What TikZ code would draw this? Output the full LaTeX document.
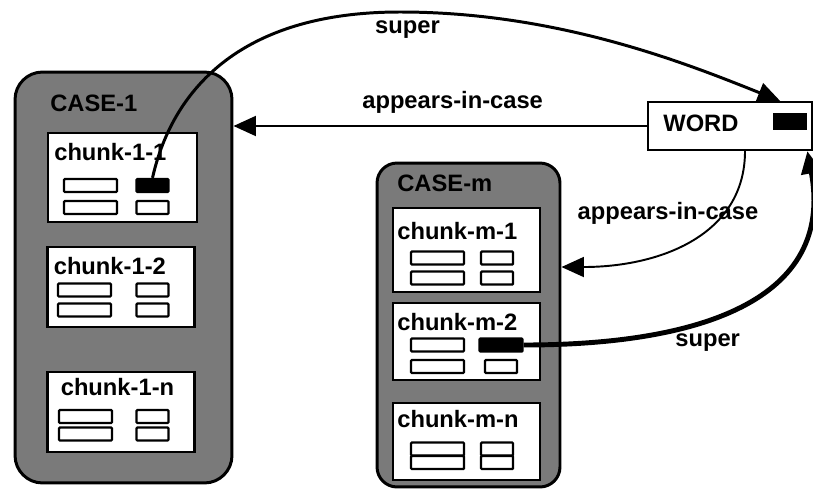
\documentclass[tikz,border=0pt]{standalone}
\usepackage{fontspec}
\setmainfont{Liberation Sans}
\usepackage{tikz}
\usetikzlibrary{arrows.meta, positioning, calc}

% four slots inside one chunk: name, wide x, narrow x, upper y, lower y, extra style of the upper narrow slot
\newcommand{\chunkfields}[6]{%
  \node[field, minimum width=1.06cm] (#1-a) at (#2,#4) {};
  \node[field, minimum width=0.64cm, #6] (#1-b) at (#3,#4) {};
  \node[field, minimum width=1.06cm] (#1-c) at (#2,#5) {};
  \node[field, minimum width=0.64cm] (#1-d) at (#3,#5) {};
}

\begin{document}
\begin{tikzpicture}[
  x=0.02cm, y=-0.02cm,
  every node/.style={font=\fontsize{13.5}{16}\selectfont\bfseries},
  casebox/.style={rectangle, rounded corners=0.55cm, draw, line width=1.7pt, fill=black!52},
  chunkbox/.style={rectangle, draw, line width=1.2pt, fill=white, minimum width=2.94cm},
  field/.style={rectangle, rounded corners=0.5pt, draw, line width=1.3pt, fill=white,
    minimum height=0.26cm, inner sep=0pt},
  tag/.style={inner sep=0pt, anchor=west},
  link/.style={line width=1.1pt, -{Triangle[length=0.45cm, width=0.4cm]}},
  superlink/.style={link, line width=1.7pt}
]
  \useasboundingbox (0,0) rectangle (813,490);

  %% the two cases
  \node[casebox, minimum width=4.34cm, minimum height=8.22cm] (case-1) at (123.5,277.5) {};
  \node[casebox, rounded corners=0.4cm, minimum width=3.66cm, minimum height=6.48cm] (case-m) at (468.5,325) {};
  \node[tag] (case-1-name) at (50,103) {CASE-1};
  \node[tag] (case-m-name) at (397,183) {CASE-m};

  %% chunks of CASE-1
  \node[chunkbox, minimum width=2.98cm, minimum height=1.78cm] (chunk-1-1) at (122.5,177.5) {};
  \node[chunkbox, minimum height=1.6cm]  (chunk-1-2) at (121,287) {};
  \node[chunkbox, minimum height=1.6cm]  (chunk-1-n) at (121,412) {};
  \node[tag] (chunk-1-1-name) at ([shift={(7,20)}]chunk-1-1.north west) {chunk-1-1};
  \node[tag] (chunk-1-2-name) at ([shift={(7,20)}]chunk-1-2.north west) {chunk-1-2};
  \node[tag] (chunk-1-n-name) at ([shift={(14,16)}]chunk-1-n.north west) {chunk-1-n};
  \chunkfields{chunk-1-1}{90.5}{152.5}{185.5}{207.5}{fill=black}
  \chunkfields{chunk-1-2}{84.5}{152.5}{290}{310}{}
  \chunkfields{chunk-1-n}{85.5}{152.5}{416.5}{434}{}

  %% chunks of CASE-m
  \node[chunkbox, minimum height=1.68cm] (chunk-m-1) at (466.5,250) {};
  \node[chunkbox, minimum height=1.54cm] (chunk-m-2) at (466.5,341.5) {};
  \node[chunkbox, minimum height=1.54cm] (chunk-m-n) at (466.5,441.5) {};
  \node[tag] (chunk-m-1-name) at ([shift={(5,24)}]chunk-m-1.north west) {chunk-m-1};
  \node[tag] (chunk-m-2-name) at ([shift={(5,20)}]chunk-m-2.north west) {chunk-m-2};
  \node[tag] (chunk-m-n-name) at ([shift={(5,17)}]chunk-m-n.north west) {chunk-m-n};
  \chunkfields{chunk-m-1}{437.5}{497}{258}{278}{}
  \chunkfields{chunk-m-2}{437.5}{501}{345}{366.5}{fill=black, minimum width=0.86cm}
  \chunkfields{chunk-m-n}{437.5}{497}{449}{462.5}{}

  %% the word
  \node[rectangle, draw, line width=1.2pt, fill=white, minimum width=3.28cm, minimum height=0.96cm] (word) at (730,126) {};
  \node[tag] (word-name) at (663,123) {WORD};
  \node[rectangle, fill=black, minimum width=0.68cm, minimum height=0.34cm, inner sep=0pt] (word-slot) at (790,121.5) {};

  %% appears-in-case
  \draw[link] (word.west) -- node[pos=0.47, above=3pt]{appears-in-case} (word.west -| case-1.east);
  \draw[link] ([xshift=0.3cm]word.south) .. controls (745,235) and (660,267) ..
    node[pos=0.3, xshift=-1.12cm]{appears-in-case} ([yshift=1.16cm]case-m.east);

  %% super
  \draw[superlink] (chunk-1-1-b.north) .. controls (170,100) and (230,12) .. (400,12)
    node[below=1pt, xshift=0.15cm]{super} .. controls (560,12) and (690,65) .. ([xshift=0.15cm]word.north -| word-slot.west);
  \draw[link, line width=2.8pt] (chunk-m-2-b.east) .. controls (700,345) and (835,300) ..
    node[pos=0.4, below=3pt]{super} (word.south -| word-slot.east);
\end{tikzpicture}
\end{document}
